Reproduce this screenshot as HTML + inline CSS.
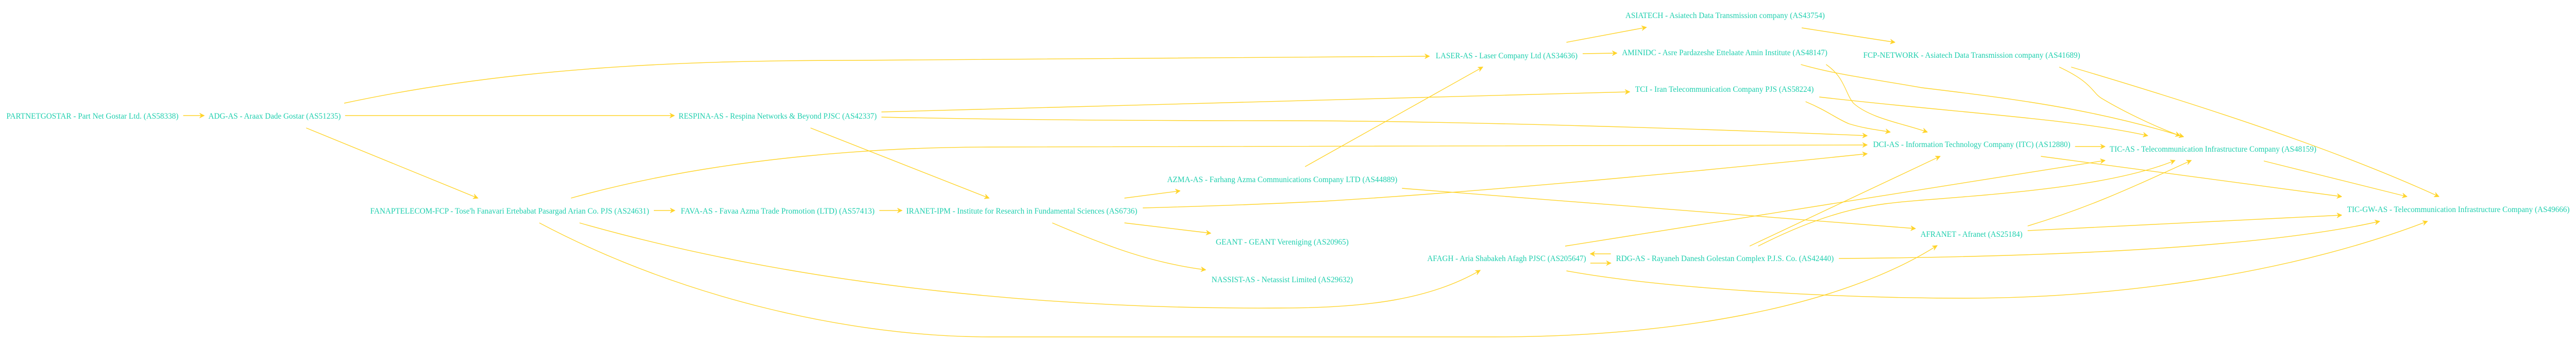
<!DOCTYPE html>
<html><head><meta charset="utf-8"><meta name="viewport" content="width=6032, initial-scale=1"><style>
html,body{margin:0;padding:0;background:#fff;width:100%;height:100%;overflow:hidden;}
svg{display:block;width:100vw;height:100vh;}
text{font-family:"Liberation Serif",serif;font-size:16px;fill:#1ecfae;}
path{fill:none;stroke:#ffd42a;stroke-width:1.4;}
</style></head><body>
<svg viewBox="0 0 6032 659" preserveAspectRatio="none" xmlns="http://www.w3.org/2000/svg">
<defs>
<marker id="a" viewBox="0 0 12 10" refX="11" refY="5" markerWidth="12" markerHeight="10" markerUnits="userSpaceOnUse" orient="auto">
<path d="M0,0 L12,5 L0,10 L4,5 z" style="fill:#ffd42a;stroke:#ffd42a;stroke-width:0.5"/>
</marker>
</defs>
<g marker-end="url(#a)">
<path d="M429,224 L478,224"/>
<path d="M806,200 C1200,130 1600,117 2000,117 L3347,109"/>
<path d="M808,224 L1579,224"/>
<path d="M717,248 L1119,384"/>
<path d="M1531,408 L1580,408"/>
<path d="M2059,408 L2112,408"/>
<path d="M1898,248 L2316,384"/>
<path d="M2064,217 L3816,178"/>
<path d="M2064,227 C2400,233 2800,234 3000,234 C3400,234 4000,250 4372,263"/>
<path d="M1337,384 C1700,300 2100,285 2316,285 L4372,281"/>
<path d="M2676,403 C2900,398 3000,394 3100,390 C3500,370 4000,330 4372,298"/>
<path d="M2633,384 L2763,370"/>
<path d="M2633,432 L2835,452"/>
<path d="M2464,432 C2600,480 2700,510 2823,523"/>
<path d="M3056,323 L3472,130"/>
<path d="M3283,365 L4485,443"/>
<path d="M1357,432 C1900,560 2500,600 3000,597 C3200,597 3350,580 3466,524"/>
<path d="M1263,432 C1600,580 2000,653 2316,653 L3500,653 C3900,653 4300,600 4536,476"/>
<path d="M3668,82 L3855,53"/>
<path d="M3706,104 L3786,103"/>
<path d="M4219,54 L4437,82"/>
<path d="M4276,125 C4320,150 4320,180 4340,200 C4380,230 4460,240 4513,256"/>
<path d="M4217,125 C4300,145 4400,155 4500,170 C4700,190 4900,210 5113,265"/>
<path d="M4228,197 C4280,215 4300,230 4330,240 C4370,250 4400,252 4426,256"/>
<path d="M4260,188 C4600,220 4850,230 5029,263"/>
<path d="M4822,130 C4900,160 4900,180 4920,190 C4980,220 5060,250 5105,263"/>
<path d="M4850,130 C5300,240 5550,320 5711,381"/>
<path d="M4859,284 L4929,284"/>
<path d="M4779,303 L5483,381"/>
<path d="M5301,312 L5636,381"/>
<path d="M3724,510 L3772,510"/>
<path d="M3772,492 L3724,492"/>
<path d="M3665,477 L4929,311"/>
<path d="M4097,477 L4543,303"/>
<path d="M4117,477 C4300,400 4400,395 4500,388 C4700,375 4950,360 5093,311"/>
<path d="M4306,501 C4800,498 5300,480 5572,429"/>
<path d="M3668,525 C3900,560 4300,578 4600,578 C5000,578 5400,520 5684,429"/>
<path d="M4748,438 C4900,400 5000,360 5131,311"/>
<path d="M4748,447 L5483,417"/>
</g>
<text x="15" y="230" textLength="403" lengthAdjust="spacingAndGlyphs">PARTNETGOSTAR - Part Net Gostar Ltd. (AS58338)</text>
<text x="488" y="230" textLength="310" lengthAdjust="spacingAndGlyphs">ADG-AS - Araax Dade Gostar (AS51235)</text>
<text x="867" y="414" textLength="653" lengthAdjust="spacingAndGlyphs">FANAPTELECOM-FCP - Tose'h Fanavari Ertebabat Pasargad Arian Co. PJS (AS24631)</text>
<text x="1589" y="230" textLength="464" lengthAdjust="spacingAndGlyphs">RESPINA-AS - Respina Networks &amp; Beyond PJSC (AS42337)</text>
<text x="1594" y="414" textLength="454" lengthAdjust="spacingAndGlyphs">FAVA-AS - Favaa Azma Trade Promotion (LTD) (AS57413)</text>
<text x="2122" y="414" textLength="541" lengthAdjust="spacingAndGlyphs">IRANET-IPM - Institute for Research in Fundamental Sciences (AS6736)</text>
<text x="2733" y="353" textLength="539" lengthAdjust="spacingAndGlyphs">AZMA-AS - Farhang Azma Communications Company LTD (AS44889)</text>
<text x="2847" y="474" textLength="311" lengthAdjust="spacingAndGlyphs">GEANT - GEANT Vereniging (AS20965)</text>
<text x="2837" y="547" textLength="331" lengthAdjust="spacingAndGlyphs">NASSIST-AS - Netassist Limited (AS29632)</text>
<text x="3806" y="35" textLength="467" lengthAdjust="spacingAndGlyphs">ASIATECH - Asiatech Data Transmission company (AS43754)</text>
<text x="3362" y="113" textLength="332" lengthAdjust="spacingAndGlyphs">LASER-AS - Laser Company Ltd (AS34636)</text>
<text x="3798" y="107" textLength="481" lengthAdjust="spacingAndGlyphs">AMINIDC - Asre Pardazeshe Ettelaate Amin Institute (AS48147)</text>
<text x="4363" y="112" textLength="508" lengthAdjust="spacingAndGlyphs">FCP-NETWORK - Asiatech Data Transmission company (AS41689)</text>
<text x="3829" y="178" textLength="418" lengthAdjust="spacingAndGlyphs">TCI - Iran Telecommunication Company PJS (AS58224)</text>
<text x="4386" y="285" textLength="462" lengthAdjust="spacingAndGlyphs">DCI-AS - Information Technology Company (ITC) (AS12880)</text>
<text x="3342" y="506" textLength="372" lengthAdjust="spacingAndGlyphs">AFAGH - Aria Shabakeh Afagh PJSC (AS205647)</text>
<text x="3784" y="506" textLength="510" lengthAdjust="spacingAndGlyphs">RDG-AS - Rayaneh Danesh Golestan Complex P.J.S. Co. (AS42440)</text>
<text x="4497" y="459" textLength="239" lengthAdjust="spacingAndGlyphs">AFRANET - Afranet (AS25184)</text>
<text x="4940" y="294" textLength="484" lengthAdjust="spacingAndGlyphs">TIC-AS - Telecommunication Infrastructure Company (AS48159)</text>
<text x="5496" y="411" textLength="521" lengthAdjust="spacingAndGlyphs">TIC-GW-AS - Telecommunication Infrastructure Company (AS49666)</text>
</svg>
</body></html>
